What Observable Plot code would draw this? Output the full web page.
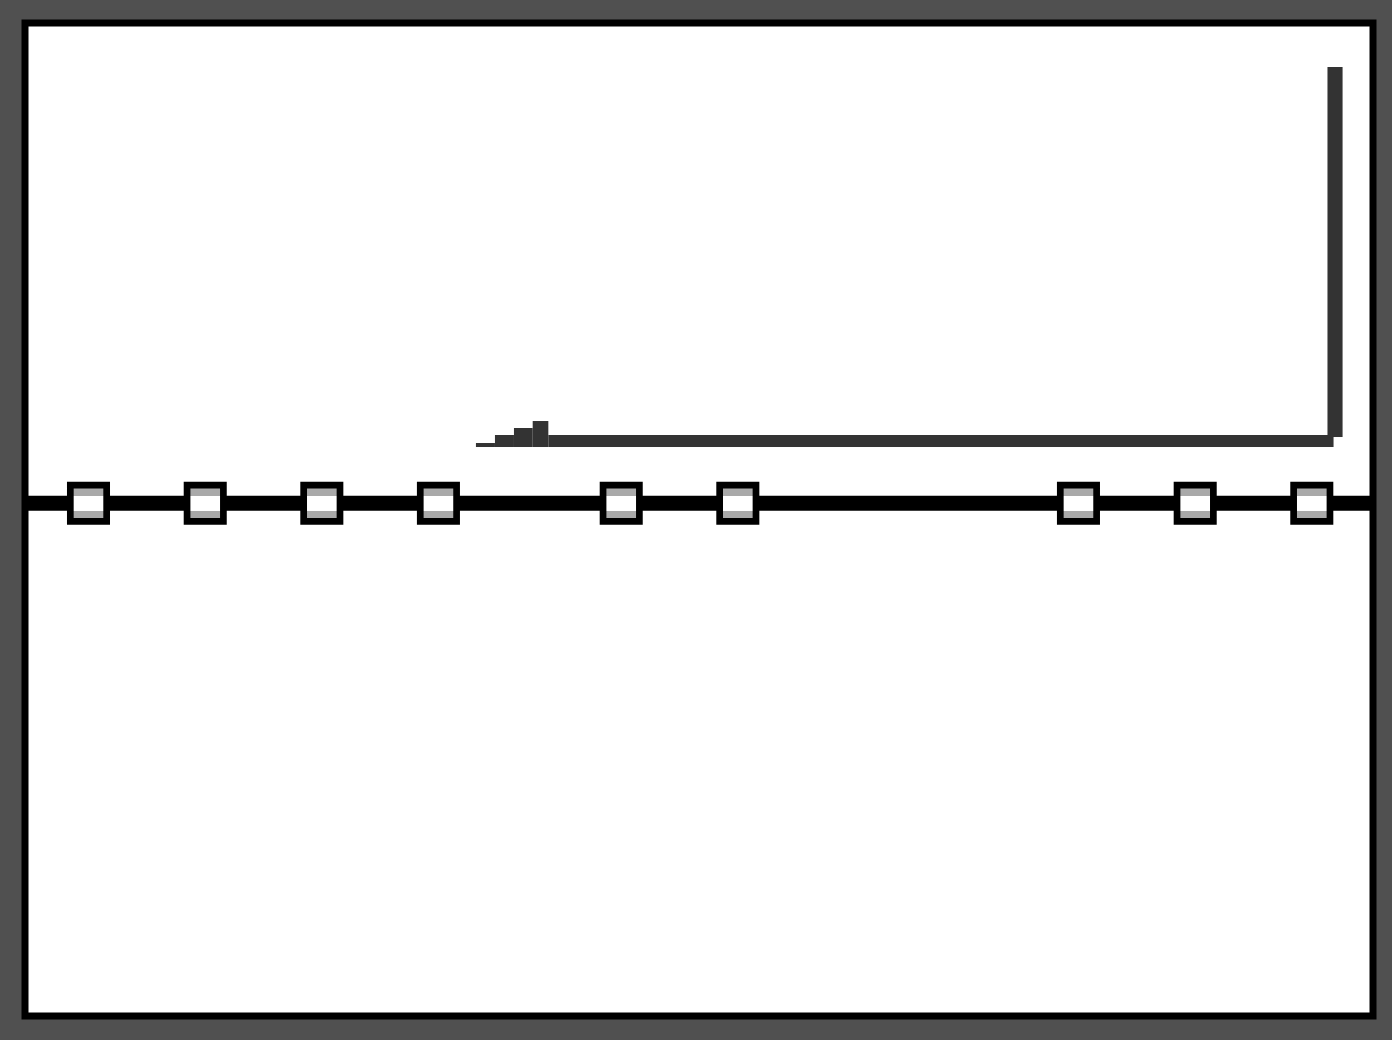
<!DOCTYPE html>
<html><head><meta charset="utf-8">
<script src="https://cdn.jsdelivr.net/npm/d3@7"></script>
<script src="https://cdn.jsdelivr.net/npm/@observablehq/plot@0.6"></script>
<style>html,body{margin:0;padding:0;background:#505050;overflow:hidden}</style>
</head><body><div id="chart"></div>
<script>
// Marker positions along the horizontal track (x units, domain 0–1000)
const markerX = [47.1, 133.7, 220.2, 306.7, 442.3, 528.8, 781.5, 868.1, 954.6];
// Level of the horizontal track (y units; bar baseline = 0, tallest bar = 100)
const trackLevel = [-14.66];
// Step bars: bin edges and values
const binStart = [334.9, 349.0, 363.1, 377.0, 388.6, 966.6];
const binEnd   = [349.0, 363.1, 377.0, 388.6, 971.1, 977.8];
const binLow   = [0, 0, 0, 0, 0, 2.63];
const binHigh  = [1.05, 3.16, 5.0, 6.84, 3.16, 100];

const bins = binStart.map((s, i) => ({x1: s, x2: binEnd[i], y1: binLow[i], y2: binHigh[i]}));
const markers = markerX.map(x => ({x, y: trackLevel[0]}));

const chart = Plot.plot({
  width: 1392,
  height: 1040,
  marginLeft: 24.5,
  marginRight: 19.5,
  marginTop: 22.5,
  marginBottom: 24.5,
  style: {background: "#505050"},
  x: {domain: [0, 1000], axis: null},
  y: {domain: [-149.6, 111.71], axis: null},
  marks: [
    Plot.frame({fill: "white", stroke: "none"}),
    Plot.rect(bins, {x1: "x1", x2: "x2", y1: "y1", y2: "y2", fill: "#333333"}),
    Plot.ruleY(trackLevel, {stroke: "black", strokeWidth: 15}),
    Plot.dot(markers, {x: "x", y: "y", symbol: "square", r: 20.5, fill: "url(#sqgrad)", stroke: "black", strokeWidth: 6.7}),
    Plot.frame({stroke: "black", strokeWidth: 7})
  ]
});

const svg = d3.select(chart);
const defs = svg.insert("defs", ":first-child");
const g = defs.append("linearGradient").attr("id", "sqgrad")
  .attr("x1", 0).attr("y1", 0).attr("x2", 0).attr("y2", 1);
[[0, "#a9a9a9"], [0.29, "#a9a9a9"], [0.31, "#ffffff"], [0.7, "#ffffff"], [0.72, "#a9a9a9"], [1, "#a9a9a9"]]
  .forEach(([o, c]) => g.append("stop").attr("offset", o).attr("stop-color", c));

document.getElementById("chart").appendChild(chart);
</script>
</body></html>
